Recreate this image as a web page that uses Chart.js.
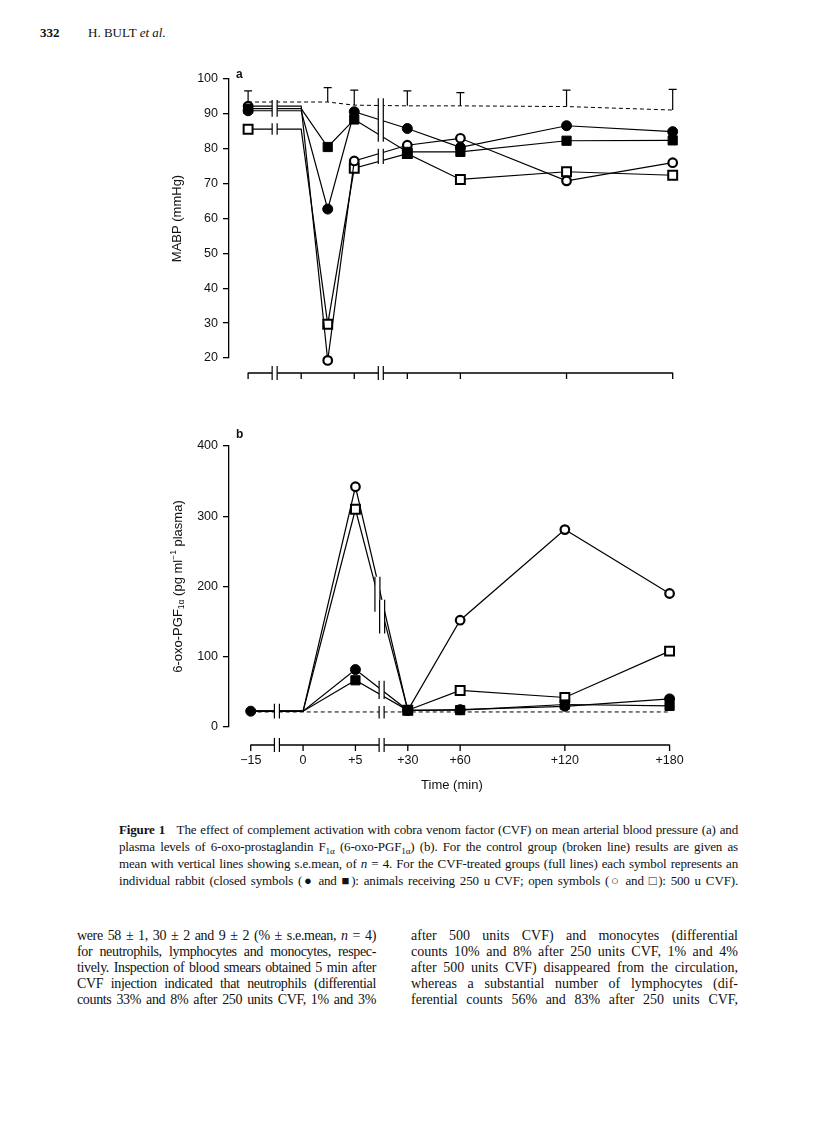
<!DOCTYPE html>
<html>
<head>
<meta charset="utf-8">
<script src="https://cdn.jsdelivr.net/npm/chart.js@4.4.0/dist/chart.umd.min.js"></script>
<style>
  body { margin: 0; background: #fff; }
  #page { position: relative; width: 816px; height: 1121px; overflow: hidden; font-family: "Liberation Serif", serif; color: #111; }
  .t { position: absolute; white-space: nowrap; }
  .j { position: absolute; text-align: justify; text-align-last: justify; white-space: normal; height: 16px; overflow: visible; }
  .cap { font-size: 13px; line-height: 16px; letter-spacing: -0.15px; }
  .body { font-size: 14px; line-height: 16px; letter-spacing: -0.35px; }
  .body.r { letter-spacing: 0; }
  .sub { font-size: 70%; vertical-align: -3px; }
  .box { position: absolute; }
  .lab { position: absolute; font-family: "Liberation Sans", sans-serif; font-weight: bold; font-size: 12px; }
</style>
</head>
<body>
<div id="page">
  <div class="t" style="left:40px;top:25px;font-size:13px;font-weight:bold;">332</div>
  <div class="t" style="left:88px;top:25px;font-size:13px;">H. BULT <i>et al.</i></div>

  <div class="box" style="left:150px;top:55px;width:560px;height:335px;"><canvas id="chartA" width="560" height="335"></canvas></div>
  <div class="lab" style="left:236px;top:67px;">a</div>

  <div class="box" style="left:150px;top:400px;width:560px;height:400px;"><canvas id="chartB" width="560" height="400"></canvas></div>
  <div class="lab" style="left:236px;top:427px;">b</div>

  <div class="j cap" style="left:119px;top:822px;width:619px;"><b>Figure 1</b>&nbsp;&nbsp; The effect of complement activation with cobra venom factor (CVF) on mean arterial blood pressure (a) and</div>
  <div class="j cap" style="left:119px;top:839px;width:619px;">plasma levels of 6-oxo-prostaglandin F<span class="sub">1α</span> (6-oxo-PGF<span class="sub">1α</span>) (b). For the control group (broken line) results are given as</div>
  <div class="j cap" style="left:119px;top:856px;width:619px;">mean with vertical lines showing s.e.mean, of <i>n</i> = 4. For the CVF-treated groups (full lines) each symbol represents an</div>
  <div class="j cap" style="left:119px;top:873px;width:619px;">individual rabbit (closed symbols (● and ■): animals receiving 250 u CVF; open symbols (○ and □): 500 u CVF).</div>

  <div class="j body" style="left:77px;top:928px;width:299px;">were 58 ± 1, 30 ± 2 and 9 ± 2 (% ± s.e.mean, <i>n</i> = 4)</div>
  <div class="j body" style="left:77px;top:944px;width:299px;">for neutrophils, lymphocytes and monocytes, respec-</div>
  <div class="j body" style="left:77px;top:960px;width:299px;">tively. Inspection of blood smears obtained 5 min after</div>
  <div class="j body" style="left:77px;top:976px;width:299px;">CVF injection indicated that neutrophils (differential</div>
  <div class="j body" style="left:77px;top:992px;width:299px;">counts 33% and 8% after 250 units CVF, 1% and 3%</div>

  <div class="j body r" style="left:411px;top:928px;width:327px;">after 500 units CVF) and monocytes (differential</div>
  <div class="j body r" style="left:411px;top:944px;width:327px;">counts 10% and 8% after 250 units CVF, 1% and 4%</div>
  <div class="j body r" style="left:411px;top:960px;width:327px;">after 500 units CVF) disappeared from the circulation,</div>
  <div class="j body r" style="left:411px;top:976px;width:327px;">whereas a substantial number of lymphocytes (dif-</div>
  <div class="j body r" style="left:411px;top:992px;width:327px;">ferential counts 56% and 83% after 250 units CVF,</div>
</div>

<script>
// time axis: positions on a stretched scale, one unit per early step
const tickPos = [0, 1, 2, 3, 4, 6, 8];
const timeLabels = ["\u221215", "0", "+5", "+30", "+60", "+120", "+180"];
const breakPos = [0.5, 2.5];

// panel a: MABP (mmHg); index 2 is the dip between 0 and +5 min
const posA = [0, 1, 1.5, 2, 3, 4, 6, 8];
const closedCircleA = [90.9, 90.9, 62.7, 90.6, 85.8, 80.4, 86.6, 84.9];
const closedSquareA = [91.5, 91.5, 80.5, 88.4, 79.1, 79.1, 82.3, 82.4];
const openCircleA = [92.2, 92.2, 19.3, 76.5, 81.0, 83.0, 70.8, 76.0];
const openSquareA = [85.6, 85.6, 29.7, 74.4, 78.6, 71.2, 73.4, 72.4];
const controlPosA = [0, 1.5, 2, 3, 4, 6, 8];
const controlMeanA = [93.4, 93.4, 92.5, 92.3, 92.3, 92.1, 91.1];
const controlSemA = [3.2, 4.1, 4.3, 4.3, 3.8, 4.7, 5.9];

// panel b: 6-oxo-PGF1a (pg/ml plasma)
const posB = [0, 1, 2, 3, 4, 6, 8];
const closedCircleB = [22.5, 22.5, 81.7, 23.8, 24.7, 29.5, 40];
const closedSquareB = [22.5, 22.5, 66.5, 23.8, 24, 32, 30];
const openCircleB = [22.5, 22.5, 342, 23.8, 152, 281, 190];
const openSquareB = [22.5, 22.5, 310, 23.8, 52, 42, 108];
const controlB = [21.4, 21.4, 21.4, 21.4, 21.4, 21.4, 21.4];

const FONT = "Liberation Sans";
const INK = "#111";

const styles = {
  closedCircle: { shape: "circle", r: 5, fill: "#000", bw: 1 },
  closedSquare: { shape: "rect", r: 6.5, fill: "#000", bw: 1 },
  openCircle: { shape: "circle", r: 4.3, fill: "#fff", bw: 2.2 },
  openSquare: { shape: "rect", r: 6.3, fill: "#fff", bw: 2 },
};

function series(xs, ys, st, hidden) {
  return {
    data: xs.map((x, i) => ({ x: x, y: ys[i] })),
    borderColor: "#000",
    borderWidth: 1.2,
    pointStyle: st.shape,
    pointRadius: (ctx) => (hidden.includes(ctx.dataIndex) ? 0 : st.r),
    pointBackgroundColor: st.fill,
    pointBorderColor: "#000",
    pointBorderWidth: st.bw,
    tension: 0,
    clip: false,
  };
}

function controlLine(xs, ys) {
  return {
    data: xs.map((x, i) => ({ x: x, y: ys[i] })),
    borderColor: "#000",
    borderWidth: 1,
    borderDash: [4, 3],
    pointRadius: 0,
    clip: false,
  };
}

function drawBreak(ctx, px, top, bottom) {
  ctx.fillStyle = "#fff";
  ctx.fillRect(px - 2.5, top, 5, bottom - top);
  ctx.beginPath();
  ctx.moveTo(px - 2.5, top); ctx.lineTo(px - 2.5, bottom);
  ctx.moveTo(px + 2.5, top); ctx.lineTo(px + 2.5, bottom);
  ctx.stroke();
}

const extras = {
  id: "extras",
  afterDatasetsDraw(chart, args, opts) {
    const { ctx, chartArea } = chart;
    const x = chart.scales.x, y = chart.scales.y;
    ctx.save();
    ctx.strokeStyle = "#000";
    ctx.lineWidth = 1.2;

    // s.e.mean bars on the control group
    if (opts.errX) {
      opts.errX.forEach((p, i) => {
        const px = x.getPixelForValue(p);
        const y0 = y.getPixelForValue(opts.errMean[i]);
        const y1 = y.getPixelForValue(opts.errMean[i] + opts.errSem[i]);
        ctx.beginPath();
        ctx.moveTo(px, y0); ctx.lineTo(px, y1);
        ctx.moveTo(px - 4, y1); ctx.lineTo(px + 4, y1);
        ctx.stroke();
      });
    }

    // breaks on the plotted lines
    opts.breaks.forEach((b) => {
      drawBreak(ctx, x.getPixelForValue(b.x), y.getPixelForValue(b.hi), y.getPixelForValue(b.lo));
    });

    // time axis drawn apart from the plot
    const ay = chartArea.bottom + opts.gap;
    ctx.lineWidth = 1.3;
    ctx.beginPath();
    ctx.moveTo(x.getPixelForValue(tickPos[0]), ay);
    ctx.lineTo(x.getPixelForValue(tickPos[tickPos.length - 1]), ay);
    tickPos.forEach((p) => {
      const px = x.getPixelForValue(p);
      ctx.moveTo(px, ay - 0.5); ctx.lineTo(px, ay + 6);
    });
    ctx.stroke();
    ctx.lineWidth = 1.2;
    breakPos.forEach((p) => drawBreak(ctx, x.getPixelForValue(p), ay - 7, ay + 7));

    // y title with sub/superscripts
    if (opts.richTitle) {
      const t = opts.richTitle;
      const cy = (chartArea.top + chartArea.bottom) / 2;
      ctx.translate(t.x, cy);
      ctx.rotate(-Math.PI / 2);
      let total = 0;
      t.runs.forEach((r) => {
        ctx.font = r.size + "px \"" + FONT + "\"";
        r.w = ctx.measureText(r.t).width;
        total += r.w;
      });
      let xx = -total / 2;
      ctx.fillStyle = INK;
      ctx.textBaseline = "middle";
      t.runs.forEach((r) => {
        ctx.font = r.size + "px \"" + FONT + "\"";
        ctx.fillText(r.t, xx, r.dy);
        xx += r.w;
      });
    }
    ctx.restore();
  },
};

function yScale(min, max, step, title) {
  return {
    type: "linear",
    min: min,
    max: max,
    afterFit: (s) => { s.width = 79; },
    ticks: { stepSize: step, color: INK, padding: 5, font: { family: FONT, size: 12.5 } },
    grid: { drawOnChartArea: false, tickLength: 6, color: "#000", lineWidth: 1.3 },
    border: { display: true, color: "#000", width: 1.3 },
    title: title
      ? { display: true, text: title, color: INK, font: { family: FONT, size: 13 }, padding: { top: 20, bottom: 0 } }
      : { display: false },
  };
}

Chart.defaults.animation = false;
Chart.defaults.font.family = FONT;

new Chart(document.getElementById("chartA"), {
  type: "line",
  data: {
    datasets: [
      series(posA, closedCircleA, styles.closedCircle, [1]),
      series(posA, closedSquareA, styles.closedSquare, [1]),
      series(posA, openCircleA, styles.openCircle, [1]),
      series(posA, openSquareA, styles.openSquare, [1]),
      controlLine(controlPosA, controlMeanA),
    ],
  },
  options: {
    responsive: false,
    layout: { padding: { top: 24, right: 32, bottom: 32, left: 0 } },
    plugins: {
      legend: { display: false },
      tooltip: { enabled: false },
      extras: {
        gap: 15,
        errX: controlPosA,
        errMean: controlMeanA,
        errSem: controlSemA,
        breaks: [
          { x: 0.5, lo: 89.2, hi: 94 },
          { x: 0.5, lo: 84, hi: 87.3 },
          { x: 2.5, lo: 82, hi: 94.5 },
          { x: 2.5, lo: 75.6, hi: 80 },
        ],
      },
    },
    scales: {
      x: { type: "linear", min: -0.36, max: 8.1, display: false },
      y: yScale(20, 100, 10, "MABP (mmHg)"),
    },
  },
  plugins: [extras],
});

new Chart(document.getElementById("chartB"), {
  type: "line",
  data: {
    datasets: [
      series(posB, closedCircleB, styles.closedCircle, [1]),
      series(posB, closedSquareB, styles.closedSquare, [0, 1]),
      series(posB, openCircleB, styles.openCircle, [0, 1]),
      series(posB, openSquareB, styles.openSquare, [0, 1]),
      controlLine(posB, controlB),
    ],
  },
  options: {
    responsive: false,
    layout: { padding: { top: 46, right: 30, bottom: 0, left: 0 } },
    plugins: {
      legend: { display: false },
      tooltip: { enabled: false },
      extras: {
        gap: 18,
        breaks: [
          { x: 0.5, lo: 12, hi: 33 },
          { x: 2.42, lo: 164, hi: 214 },
          { x: 2.51, lo: 133, hi: 181 },
          { x: 2.5, lo: 40, hi: 66 },
          { x: 2.5, lo: 12, hi: 30 },
        ],
        richTitle: {
          x: 28,
          runs: [
            { t: "6-oxo-PGF", size: 13, dy: 0 },
            { t: "1\u03b1", size: 8.5, dy: 3.5 },
            { t: " (pg ml", size: 13, dy: 0 },
            { t: "\u22121", size: 8.5, dy: -4.5 },
            { t: " plasma)", size: 13, dy: 0 },
          ],
        },
      },
    },
    scales: {
      x: {
        type: "linear",
        min: -0.415,
        max: 8.1,
        afterFit: (s) => { s.height = 73; },
        afterBuildTicks: (s) => { s.ticks = tickPos.map((v) => ({ value: v })); },
        ticks: {
          color: INK,
          padding: 26,
          maxRotation: 0,
          autoSkip: false,
          font: { family: FONT, size: 12.5 },
          callback: (v) => timeLabels[tickPos.indexOf(v)],
        },
        grid: { display: false, drawTicks: false },
        border: { display: false },
        title: { display: true, text: "Time (min)", color: INK, font: { family: FONT, size: 13 }, padding: { top: 0, bottom: 7 } },
      },
      y: yScale(0, 400, 100, null),
    },
  },
  plugins: [extras],
});
</script>
</body>
</html>
